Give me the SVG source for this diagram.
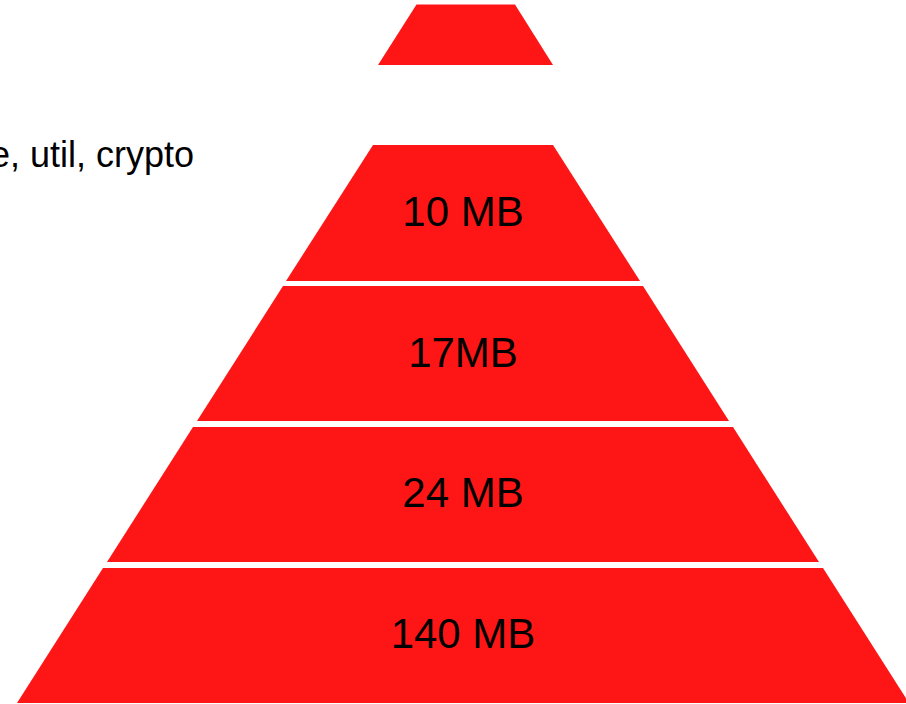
<svg xmlns="http://www.w3.org/2000/svg" width="906" height="704" viewBox="0 0 906 704">
<style>
.tier{fill:#fe1616;}
.lbl{font-family:"Liberation Sans",Arial,sans-serif;font-size:42px;fill:#000;text-anchor:middle;}
.side{font-family:"Liberation Sans",Arial,sans-serif;font-size:36px;fill:#000;}
</style>
<rect width="906" height="704" fill="#fff"/>
<g id="tier-top"><polygon class="tier" points="416.5,4.5 515,4.5 553,65 378,65"/></g>
<text class="side" x="-10" y="166.5">e, util, crypto</text>
<g id="tier-1"><polygon class="tier" points="373,145 553,145 640,281 286,281"/><text class="lbl" x="463" y="226">10 MB</text></g>
<g id="tier-2"><polygon class="tier" points="283,286 643,286 729,421 197,421"/><text class="lbl" x="463" y="367">17MB</text></g>
<g id="tier-3"><polygon class="tier" points="193,427 733,427 819,562 107,562"/><text class="lbl" x="463" y="507">24 MB</text></g>
<g id="tier-4"><polygon class="tier" points="103,568 823,568 909,703 17,703"/><text class="lbl" x="463" y="648">140 MB</text></g>
</svg>
